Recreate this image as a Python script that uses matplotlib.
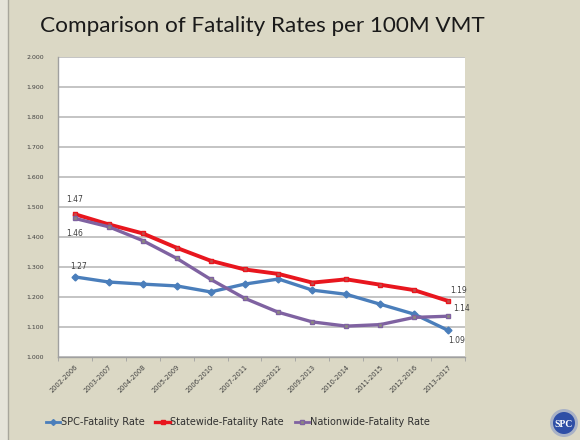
import matplotlib.pyplot as plt
from matplotlib.patches import Rectangle, Circle
from matplotlib.lines import Line2D

periods = ['2002-2006', '2003-2007', '2004-2008', '2005-2009', '2006-2010', '2007-2011',
           '2008-2012', '2009-2013', '2010-2014', '2011-2015', '2012-2016', '2013-2017']
spc = [1.267, 1.250, 1.243, 1.237, 1.217, 1.243, 1.260, 1.223, 1.209, 1.176, 1.143, 1.089]
statewide = [1.476, 1.442, 1.412, 1.364, 1.321, 1.292, 1.277, 1.248, 1.259, 1.241, 1.223, 1.187]
nationwide = [1.462, 1.434, 1.388, 1.329, 1.259, 1.196, 1.149, 1.117, 1.103, 1.108, 1.132, 1.136]
yticks = [1.0, 1.1, 1.2, 1.3, 1.4, 1.5, 1.6, 1.7, 1.8, 1.9, 2.0]

bg = '#dbd8c5'
fig = plt.figure(figsize=(5.8, 4.4), dpi=100, facecolor=bg)

# light strip on the left edge of the slide
fig.patches.append(Rectangle((0, 0), 8 / 580, 1, transform=fig.transFigure,
                             facecolor='#e6e4da', edgecolor='none'))
fig.lines.append(Line2D([8 / 580, 8 / 580], [0, 1], transform=fig.transFigure,
                        color='#a8a69c', linewidth=1))

fig.text(0.069, 0.94, 'Comparison of Fatality Rates per 100M VMT', fontsize=16.2,
         family='Lato', color='#1a1a1a', va='center')

ax = fig.add_axes([0.1, 0.1886, 0.7017, 0.6818])
ax.set_facecolor('white')
x = list(range(len(periods)))

ax.plot(x, spc, color='#4a7ebb', linewidth=2.4, marker='D', markersize=3.5, zorder=3)
ax.plot(x, statewide, color='#e8161e', linewidth=2.8, marker='s', markersize=3.5,
        markerfacecolor='#c0504d', zorder=3)
ax.plot(x, nationwide, color='#7f62a1', linewidth=2.4, marker='s', markersize=3.5,
        markerfacecolor='#8c8c7c', zorder=3)

ax.set_xlim(-0.5, len(periods) - 0.5)
ax.set_ylim(1.0, 2.0)
ax.set_yticks(yticks)
ax.set_yticklabels(['%.3f' % v for v in yticks], fontsize=4.5, color='#404040')
ax.yaxis.grid(True, color='#bfbfbf', linewidth=1.3)
ax.set_axisbelow(True)
ax.tick_params(axis='y', length=0, pad=10)

ax.set_xticks(x)
ax.set_xticklabels(periods, rotation=45, ha='right', rotation_mode='anchor',
                   fontsize=4.8, color='#404040')
ax.set_xticks([i - 0.5 for i in range(len(periods) + 1)], minor=True)
ax.tick_params(axis='x', which='major', length=0, pad=5)
ax.tick_params(axis='x', which='minor', length=3, color='#a0a0a0')

for s in ['top', 'right']:
    ax.spines[s].set_visible(False)
for s in ['left', 'bottom']:
    ax.spines[s].set_color('#a0a0a0')
    ax.spines[s].set_linewidth(1)

lab = dict(fontsize=5.5, color='#404040', ha='center')
ax.text(0, statewide[0] + 0.035, '%.2f' % 1.47, va='bottom', **lab)
ax.text(0, nationwide[0] - 0.035, '%.2f' % 1.46, va='top', **lab)
ax.text(0.1, spc[0] + 0.02, '%.2f' % 1.27, va='bottom', **lab)
ax.text(11.3, statewide[-1] + 0.02, '%.2f' % 1.19, va='bottom', **lab)
ax.text(11.4, nationwide[-1] + 0.01, '%.2f' % 1.14, va='bottom', **lab)
ax.text(11.25, spc[-1] - 0.02, '%.2f' % 1.09, va='top', **lab)

handles = [Line2D([], [], color='#4a7ebb', linewidth=2, marker='D', markersize=3),
           Line2D([], [], color='#e8161e', linewidth=2.4, marker='s', markersize=3),
           Line2D([], [], color='#7f62a1', linewidth=2, marker='s', markersize=3,
                  markerfacecolor='#8c8c7c')]
fig.legend(handles, ['SPC-Fatality Rate', 'Statewide-Fatality Rate', 'Nationwide-Fatality Rate'],
           loc='center', bbox_to_anchor=(0.41, 0.04), ncol=3, frameon=False,
           fontsize=7, handlelength=1.5, handletextpad=0.05, columnspacing=1.1,
           labelcolor='#303030')

# logo in the bottom right corner
lax = fig.add_axes([546 / 580, -3 / 440, 40 / 580, 40 / 440])
lax.set_xlim(0, 40)
lax.set_ylim(0, 40)
lax.axis('off')
lax.add_patch(Circle((18, 20), 14, facecolor='#a9b2c6', edgecolor='none'))
lax.add_patch(Circle((18, 20), 11, facecolor='#2f4fa6', edgecolor='none'))
lax.text(18, 19, 'SPC', color='white', fontsize=7, family='Liberation Serif',
         fontweight='bold', ha='center', va='center')

fig.savefig('out.png', dpi=100, facecolor=bg)
